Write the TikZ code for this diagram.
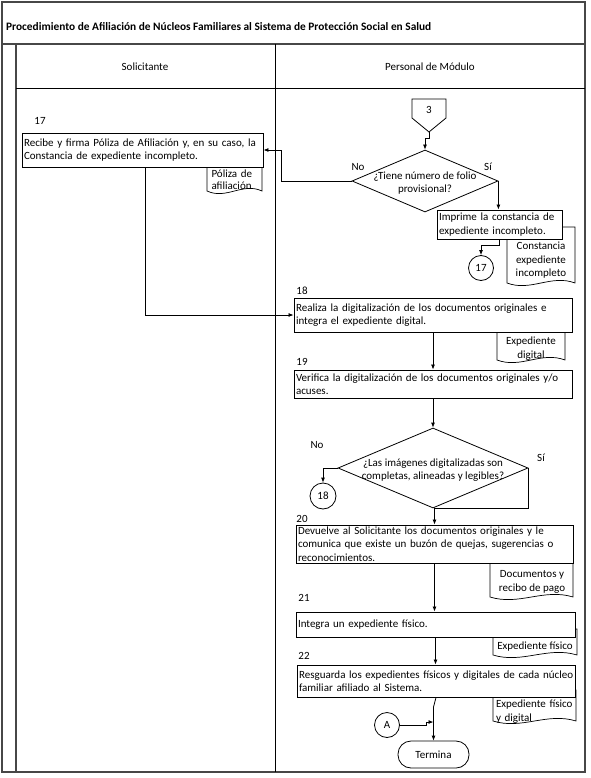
\documentclass[tikz,border=0pt]{standalone}
\usepackage{fontspec}
\setmainfont{Carlito}
\usetikzlibrary{arrows.meta,shapes.geometric,calc}
\setlength\parindent{0pt}
\newcommand\fs{\fontsize{11}{13.5}\selectfont}
\newcommand\jline[1]{\makebox[\hsize][s]{#1}}
\newcommand\docshape[4]{%
  \filldraw[docline,fill=white] (#1,#2) -- (#1,#4)
    .. controls ($(#1,#4)!0.35!(#3,#4)+(0,9)$) and ($(#1,#4)!0.65!(#3,#4)+(0,-9)$) .. (#3,#4)
    -- (#3,#2) -- cycle;}
\begin{document}
\begin{tikzpicture}[x=1pt,y=-1pt,
  every node/.style={font=\fs, inner sep=0pt},
  frameline/.style={draw=black!72, line width=1.3pt},
  docline/.style={draw=black, line width=0.7pt},
  box/.style={draw, fill=white, line width=0.9pt, inner xsep=2pt, inner ysep=0pt, align=left},
  dia/.style={diamond, draw, fill=white, line width=0.8pt, inner sep=0pt},
  conn/.style={circle, draw, fill=white, line width=0.8pt, inner sep=0pt},
  arr/.style={draw, line width=0.8pt, -{Latex[length=5pt,width=4pt]}},
  ln/.style={draw, line width=0.8pt}]
\useasboundingbox (0,0) rectangle (590,778);
% frame
\draw[frameline] (2,2) rectangle (585,772);
\draw[frameline] (2,44) -- (585,44);
\draw[frameline] (16,44) -- (16,772);
\draw[line width=0.9pt] (16,88) -- (585,88);
\draw[line width=0.9pt] (275,44) -- (275,772);
\node[anchor=west, font=\fontsize{11.35}{13.5}\selectfont] (title) at (6,27) {\textbf{Procedimiento de Afiliación de Núcleos Familiares al Sistema de Protección Social en Salud}};
\node (lane1) at (145,67) {Solicitante};
\node (lane2) at (430,67) {Personal de Módulo};

% documents (behind boxes)
\docshape{207}{160}{262}{191}
\node[text width=48pt, align=left, font=\fontsize{11}{12}\selectfont] (dpoliza) at (235.5,179.5) {\jline{Póliza de}\\afiliación};
\docshape{507}{227}{575}{283}
\node[align=center] (dconst) at (541,260.5) {Constancia\\expediente\\incompleto};
\docshape{497}{325}{565}{360}
\node[align=center] (ddig) at (531,348.5) {Expediente\\digital};
\docshape{490}{555}{573}{597}
\node[align=center] (ddocs) at (532,582) {Documentos y\\recibo de pago};
\docshape{493}{629}{577}{655}
\node (dfis) at (535,647) {Expediente físico};
\docshape{493}{690}{576}{721}
\node[text width=78pt, align=left] (dfisdig) at (535,711.5) {\jline{Expediente físico}\\y digital};

% off-page connector 3
\filldraw[ln, fill=white] (412,99) -- (446,99) -- (446,118) -- (429,132) -- (412,118) -- cycle;
\node (c3) at (429,110) {3};
\coordinate (c3tip) at (429,132);

% step 17
\node (n17) at (40,121) {17};
\node[box, text width=237pt, minimum height=34pt] (b17) at (142.5,150)
  {\jline{Recibe y firma Póliza de Afiliación y, en su caso, la}\\Constancia de expediente incompleto.};

% decision 1
\node[dia, minimum width=146pt, minimum height=62pt] (d1) at (425,181) {};
\node[align=center] (d1t) at (425,183) {¿Tiene número de folio\\provisional?};
\node (no1) at (358,167) {No};
\node (si1) at (488,167) {Sí};

\node[box, text width=121pt, minimum height=29pt] (bimp) at (499.5,224.5)
  {\jline{Imprime la constancia de}\\expediente incompleto.};
\node[conn, minimum size=25pt] (c17) at (481,268) {17};

% step 18
\node (n18) at (302,291) {18};
\node[box, text width=274pt, minimum height=34pt] (b18) at (433,315)
  {\jline{Realiza la digitalización de los documentos originales e}\\integra el expediente digital.};
% step 19
\node (n19) at (302,362) {19};
\node[box, text width=274pt, minimum height=28pt] (b19) at (433,384)
  {\jline{Verifica la digitalización de los documentos originales y/o}\\acuses.};

% decision 2
\node[dia, minimum width=190pt, minimum height=80pt] (d2) at (433,468) {};
\node[align=center] (d2t) at (433,470) {¿Las imágenes digitalizadas son\\completas, alineadas y legibles?};
\node (no2) at (317,445) {No};
\node (si2) at (541,458) {Sí};
\node[conn, minimum size=26pt] (c18) at (323,496) {18};

% step 20
\node (n20) at (302,519) {20};
\node[box, text width=273pt, minimum height=38pt] (b20) at (434.5,544)
  {\jline{Devuelve al Solicitante los documentos originales y le}\\\jline{comunica que existe un buzón de quejas, sugerencias o}\\reconocimientos.};
% step 21
\node (n21) at (304,598) {21};
\node[box, text width=275pt, minimum height=25pt] (b21) at (435.5,624.5)
  {Integra un expediente físico.};
% step 22
\node (n22) at (304,656) {22};
\node[box, text width=274pt, minimum height=32pt] (b22) at (436,681)
  {\jline{Resguarda los expedientes físicos y digitales de cada núcleo}\\familiar afiliado al Sistema.};

\node[conn, minimum size=25pt] (cA) at (387,725) {A};
\node[draw, fill=white, line width=0.8pt, rounded corners=13pt, minimum width=71pt, minimum height=27pt] (term) at (433.5,754.5) {Termina};
\coordinate (j22) at (433.5,707);
\coordinate (jA) at (433.5,722);

% connectors
\draw[arr] (c3tip) -- ++(0,6) -| (d1.north);
\draw[arr] (d1.west) -| ($(b17.east)+(18,0)$) -- (b17.east);
\draw[arr] (d1.east) -- (d1.east |- bimp.north);
\draw[arr] (bimp.south) -- ++(0,6) -| (c17.north);
\draw[arr] ([xshift=2.5pt]b17.south) |- (b18.west);
\draw[arr] (b18.south) -- (b19.north);
\draw[arr] (b19.south) -- (d2.north);
\draw[arr] (d2.west) -| (c18.north);
\draw[arr] (d2.east) |- (b20.north |- d2.south) -- (b20.north);
\draw[arr] (b20.south) -- (b21.north -| b20.south);
\draw[arr] (b21.south) -- (b22.north -| b21.south);
\draw[arr] (b22.south) -- (j22) -- (term.north);
\draw[arr] (cA.east) -- ++(26,0) |- (jA);
\end{tikzpicture}
\end{document}
